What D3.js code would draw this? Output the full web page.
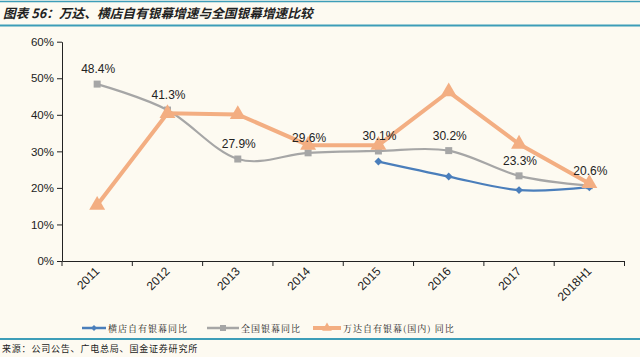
<!DOCTYPE html>
<html><head><meta charset="utf-8">
<script src="https://cdn.jsdelivr.net/npm/d3@7"></script>
<style>
html,body{margin:0;padding:0;background:#fdfaf1;}
svg{display:block;}
</style></head>
<body>
<svg id="c" width="640" height="357"></svg>
<script>
const categories = ["2011","2012","2013","2014","2015","2016","2017","2018H1"];
const hengdian = [null,null,null,null,27.2,23.1,19.4,20.2];
const national = [48.4,41.3,27.9,29.6,30.1,30.2,23.3,20.6];
const wanda = [15.3,40.4,40.1,31.7,31.7,46.3,32.0,21.2];
const nationalLabels = ["48.4%","41.3%","27.9%","29.6%","30.1%","30.2%","23.3%","20.6%"];
const yTicks = [0,10,20,30,40,50,60];
const seriesNames = ["横店自有银幕同比","全国银幕同比","万达自有银幕(国内) 同比"];
const title = "图表 56：万达、横店自有银幕增速与全国银幕增速比较";
const source = "来源：公司公告、广电总局、国金证券研究所";

const svg = d3.select("#c");
const teal = "#3d9db8";
const cBlue = "#4a7ebb", cGrey = "#a6a6a6", cOrange = "#f3ae82";

// header
svg.append("rect").attr("x",0).attr("y",0).attr("width",640).attr("height",357).attr("fill","#fdfaf1");
svg.append("line").attr("x1",0).attr("x2",640).attr("y1",1.5).attr("y2",1.5).attr("stroke",teal).attr("stroke-width",1.5);
svg.append("line").attr("x1",0).attr("x2",640).attr("y1",25.5).attr("y2",25.5).attr("stroke",teal).attr("stroke-width",2);
svg.append("text").attr("x",3).attr("y",18).attr("font-family","'Noto Sans CJK SC'").attr("font-size",12.7)
  .attr("font-weight","bold").attr("font-style","italic").attr("fill","#222").text(title);

const x = d3.scaleBand().domain(categories).range([62,624.5]);
const y = d3.scaleLinear().domain([0,60]).range([261,41.7]);

// axes
const yAxis = d3.axisLeft(y).tickValues(yTicks).tickFormat(d=>d+"%").tickSize(5).tickSizeOuter(0);
const gy = svg.append("g").attr("transform","translate(62,0)").call(yAxis);
gy.selectAll("text").attr("font-family","'Liberation Sans', Arial").attr("font-size",11.5).attr("fill","#222").attr("x",-8);
gy.select(".domain").attr("stroke","#222");
gy.selectAll(".tick line").attr("stroke","#222");

const xAxis = d3.axisBottom(x).tickSize(0).tickSizeOuter(0);
const gx = svg.append("g").attr("transform","translate(0,261)").call(xAxis);
gx.select(".domain").attr("stroke","#222");
gx.selectAll("text").attr("font-family","'Liberation Sans', Arial").attr("font-size",12).attr("fill","#222")
  .attr("text-anchor","end").attr("dy",0).attr("y",0)
  .attr("transform","translate(3,11) rotate(-45)");
// boundary ticks
const bounds = categories.map(c=>x(c)).concat([x.range()[1]]);
svg.append("g").selectAll("line").data(bounds).join("line")
  .attr("x1",d=>d).attr("x2",d=>d).attr("y1",261).attr("y2",266).attr("stroke","#222");

const cx = c => x(c)+x.bandwidth()/2;

// national (grey, smooth)
const nd = categories.map((c,i)=>({c,v:national[i]}));
svg.append("path").datum(nd).attr("fill","none").attr("stroke",cGrey).attr("stroke-width",2.2)
  .attr("d",d3.line().x(d=>cx(d.c)).y(d=>y(d.v)).curve(d3.curveCardinal.tension(0)));
svg.append("g").selectAll("rect").data(nd).join("rect")
  .attr("x",d=>cx(d.c)-3.5).attr("y",d=>y(d.v)-3.5).attr("width",7).attr("height",7).attr("fill",cGrey);

// hengdian (blue)
const hd = categories.map((c,i)=>({c,v:hengdian[i]})).filter(d=>d.v!=null);
svg.append("path").datum(hd).attr("fill","none").attr("stroke",cBlue).attr("stroke-width",2.2)
  .attr("d",d3.line().x(d=>cx(d.c)).y(d=>y(d.v)).curve(d3.curveCardinal.tension(0)));
svg.append("g").selectAll("path").data(hd).join("path")
  .attr("d",d3.symbol(d3.symbolDiamond2,40)).attr("transform",d=>`translate(${cx(d.c)},${y(d.v)})`).attr("fill",cBlue);

// wanda (orange)
const wd = categories.map((c,i)=>({c,v:wanda[i]}));
svg.append("path").datum(wd).attr("fill","none").attr("stroke",cOrange).attr("stroke-width",4)
  .attr("d",d3.line().x(d=>cx(d.c)).y(d=>y(d.v)));
svg.append("g").selectAll("path").data(wd).join("path")
  .attr("d",d3.symbol(d3.symbolTriangle,110)).attr("transform",d=>`translate(${cx(d.c)},${y(d.v)})`).attr("fill",cOrange);

// labels for national
svg.append("g").selectAll("text").data(nd).join("text")
  .attr("x",d=>cx(d.c)+1).attr("y",d=>y(d.v)-11).attr("text-anchor","middle")
  .attr("font-family","'Liberation Sans', Arial").attr("font-size",12).attr("fill","#222")
  .text((d,i)=>nationalLabels[i]);

// legend
const leg = [{n:seriesNames[0],c:cBlue,x0:82,x1:106,tx:108,m:"d"},
             {n:seriesNames[1],c:cGrey,x0:207,x1:239,tx:241,m:"s"},
             {n:seriesNames[2],c:cOrange,x0:313,x1:341,tx:343,m:"t"}];
const lg = svg.append("g");
leg.forEach(l=>{
  lg.append("line").attr("x1",l.x0).attr("x2",l.x1).attr("y1",328).attr("y2",328).attr("stroke",l.c).attr("stroke-width",l.m==="t"?4:2.5);
  const mx=(l.x0+l.x1)/2;
  if(l.m==="d") lg.append("path").attr("d",d3.symbol(d3.symbolDiamond2,22)).attr("transform",`translate(${mx},328)`).attr("fill",l.c);
  if(l.m==="s") lg.append("rect").attr("x",mx-3).attr("y",325).attr("width",6).attr("height",6).attr("fill",l.c);
  if(l.m==="t") lg.append("path").attr("d",d3.symbol(d3.symbolTriangle,40)).attr("transform",`translate(${mx},328)`).attr("fill",l.c);
  lg.append("text").attr("x",l.tx).attr("y",331.5).attr("font-family","'Noto Serif CJK SC','Noto Sans CJK SC'").attr("font-size",9)
    .attr("letter-spacing",1).attr("fill","#222").text(l.n);
});

// bottom
svg.append("line").attr("x1",0).attr("x2",640).attr("y1",339).attr("y2",339).attr("stroke",teal).attr("stroke-width",2);
svg.append("text").attr("x",2).attr("y",352).attr("font-family","'Noto Sans CJK SC'").attr("font-size",9)
  .attr("letter-spacing",0.8).attr("fill","#222").text(source);
</script>
</body></html>
